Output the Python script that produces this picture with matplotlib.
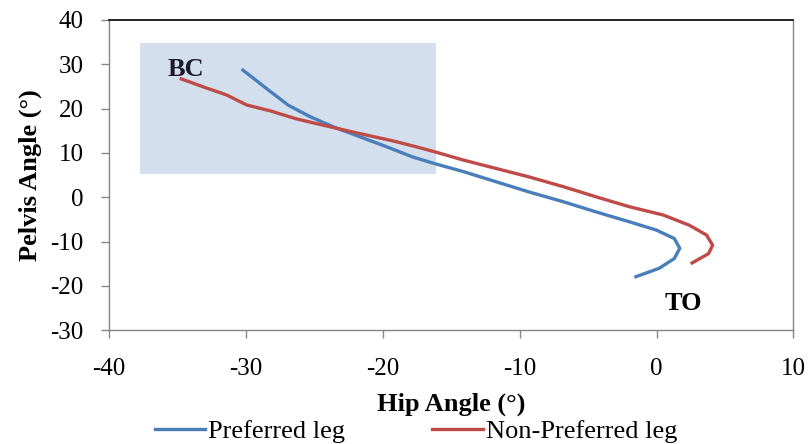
import numpy as np
import matplotlib.pyplot as plt
from matplotlib.patches import Rectangle

# hip angle (x) vs pelvis angle (y)
pref_hip = [-30.2, -28.5, -26.9, -25.3, -23.6, -21.7, -19.7, -17.8, -16.2,
            -14.1, -11.7, -9.3, -6.8, -4.4, -2.0, 0.0, 1.3, 1.7, 1.3, 0.2, -1.5]
pref_pelvis = [28.7, 24.6, 20.8, 18.2, 15.9, 13.7, 11.4, 9.1, 7.6,
               5.8, 3.5, 1.2, -1.0, -3.3, -5.5, -7.4, -9.3, -11.5, -13.8, -16.0, -17.9]

nonpref_hip = [-34.7, -32.9, -31.4, -29.9, -28.2, -26.3, -24.1, -21.7, -19.2,
               -17.3, -16.0, -14.1, -11.7, -9.3, -6.8, -4.4, -2.0, 0.5, 2.4,
               3.65, 4.1, 3.8, 2.6]
nonpref_pelvis = [26.7, 24.7, 23.1, 20.8, 19.5, 17.7, 16.1, 14.4, 12.7,
                  11.2, 10.1, 8.4, 6.5, 4.6, 2.4, 0.1, -2.1, -4.0, -6.3,
                  -8.5, -10.8, -12.7, -14.8]

# highlighted region
shade_x = [-37.7, -16.1]
shade_y = [5.2, 34.7]

xticks = [-40, -30, -20, -10, 0, 10]
yticks = [-30, -20, -10, 0, 10, 20, 30, 40]

plt.rcParams['font.family'] = ['Liberation Serif', 'DejaVu Serif']
plt.rcParams['axes.unicode_minus'] = False

fig = plt.figure(figsize=(8.08, 4.44), dpi=100)
ax = fig.add_axes([0.1345, 0.256, 0.8475, 0.699])

ax.add_patch(Rectangle((shade_x[0], shade_y[0]), shade_x[1] - shade_x[0],
                       shade_y[1] - shade_y[0], facecolor='#D4DFEE',
                       edgecolor='none', zorder=1))

ax.plot(pref_hip, pref_pelvis, color='#4A7EBB', lw=2.4, label='Preferred leg',
        solid_joinstyle='round', zorder=3)
ax.plot(nonpref_hip, nonpref_pelvis, color='#BE4B48', lw=2.4,
        label='Non-Preferred leg', solid_joinstyle='round', zorder=3)

ax.text(-35.7, 27.4, 'BC', fontsize=19, fontweight='bold', color='#1a1a2a',
        ha='left', va='baseline')
ax.text(0.6, -25.5, 'TO', fontsize=19, fontweight='bold', color='black',
        ha='left', va='baseline')

ax.set_xlim(-40, 10)
ax.set_ylim(-30, 40)
ax.set_xticks(xticks)
ax.set_yticks(yticks)
ax.tick_params(axis='x', length=6, width=1, color='#868686', pad=14, labelsize=18)
ax.tick_params(axis='y', length=6, width=1, color='#868686', pad=12, labelsize=18)

for s in ['left', 'bottom', 'right']:
    ax.spines[s].set_color('#868686')
    ax.spines[s].set_linewidth(1)
ax.spines['top'].set_color('black')
ax.spines['top'].set_linewidth(1.2)

ax.set_xlabel('Hip Angle (°)', fontsize=19, fontweight='bold', labelpad=9)
ax.set_ylabel('Pelvis Angle (°)', fontsize=19, fontweight='bold', labelpad=6)

fig.legend(loc='center left', bbox_to_anchor=(155 / 808, 1 - 431 / 444),
           ncol=2, frameon=False, fontsize=19, handlelength=1.9,
           handletextpad=0.12, columnspacing=3.3, borderpad=0, borderaxespad=0)

fig.savefig('out.png', dpi=100)
